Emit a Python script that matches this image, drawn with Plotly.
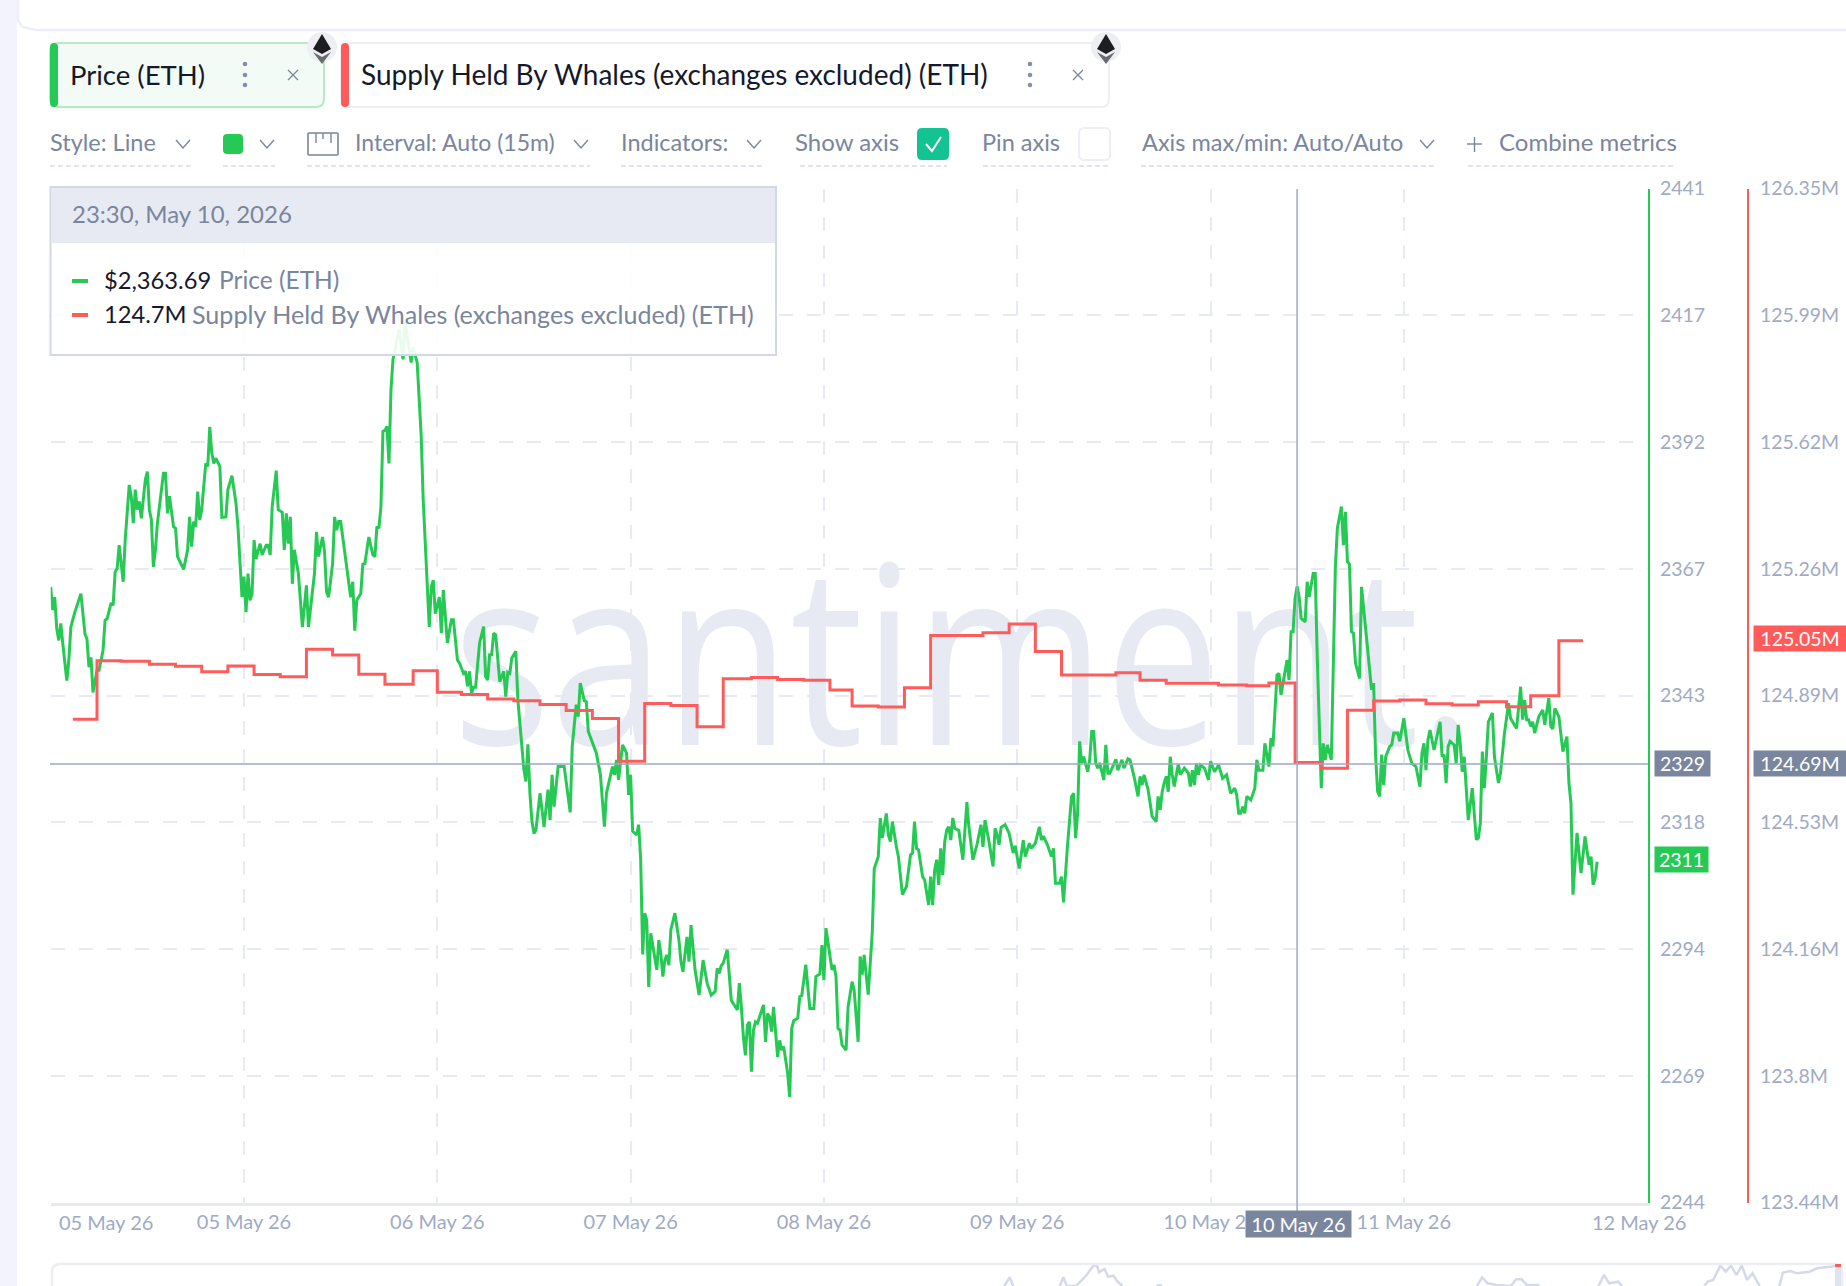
import numpy as np
import pandas as pd
import plotly.graph_objects as go

W, H = 1846, 1286

# Price (ETH), steps are 15 minute candles counted from the first x tick
price_steps = [0,1,2,3,4,5,6,8,9,10,12,15,16,17,18,19,20,21,23,24,26,27,28,30,31,32,33,34,36,37,39,40,41,42,43,44,45,47,48,49,50,51,52,53,54,56,57,58,59,61,62,63,66,68,69,70,71,72,
    73,74,75,77,78,79,80,81,82,84,85,87,88,90,92,93,95,96,97,98,99,100,101,102,104,105,107,108,109,110,112,113,115,116,117,118,119,120,121,123,125,127,128,131,132,133,135,136,137,138,140,141,142,143,144,146,148,149,150,151,152,154,155,156,158,160,161,162,163,164,165,166,167,168,169,170,171,173,175,176,179,180,182,184,185,186,188,189,190,191,193,
    194,195,197,199,200,202,203,205,206,207,208,209,210,211,213,215,216,217,218,219,220,221,223,225,226,227,228,229,231,232,234,235,236,237,238,239,240,241,243,245,247,248,249,250,252,255,258,259,261,262,263,265,266,267,271,273,275,276,279,280,281,282,284,286,287,288,289,291,292,293,294,295,296,297,298,300,301,302,303,304,305,306,307,308,310,312,313,314,316,317,318,320,322,324,326,328,330,331,332,333,334,336,338,341,342,343,344,345,346,347,348,349,350,351,354,355,356,357,358,359,361,362,363,364,366,367,368,369,371,372,373,375,377,379,380,382,383,384,385,388,389,390,391,392,393,395,396,398,399,401,402,403,404,406,408,
    409,411,412,413,415,416,417,418,420,421,423,425,427,428,429,430,431,433,434,436,437,438,439,440,441,442,443,444,445,446,447,448,449,451,453,455,456,458,460,462,463,464,466,468,469,470,471,472,474,476,478,479,481,483,484,486,487,489,491,492,493,495,497,498,499,501,502,503,505,507,508,509,510,511,512,513,515,516,517,518,519,520,521,522,523,524,525,526,529,530,532,533,535,536,538,540,541,542,543,545,547,549,550,551,552,553,554,555,556,557,558,560,561,563,565,566,567,568,569,570,571,573,575,576,578,580,582,584,586,588,589,590,591,592,593,594,596,598,599,600,602,
    603,605,606,607,609,610,611,614,615,616,617,618,619,620,621,623,624,625,627,628,629,630,631,632,633,634,636,637,638,639,641,642,643,644,645,646,647,648,650,651,652,654,656,657,658,659,660,661,662,663,665,666,667,669,670,672,674,676,678,680,681,682,683,684,685,687,690,691,692,693,694,695,697,698,699,700,701,702,704,706,708,709,710,711,712,713,714,716,717,719,720,722,724,725,728,730,731,732,733,734,735,736,737,739,741,742,744,745,746,747,749,751,753,754,755,756,758,759,760,762,764,765,766,767,768]
price_values = [2363.6,2359.1,2361.6,2355.5,2353.2,2356.5,2352.6,2345.4,2349.3,2355.8,2358.7,2362.3,2358.4,2354.5,2353.5,2348.0,2349.9,2343.1,2347.4,2347.4,2351.3,2357.1,2357.4,2360.5,2360.0,2366.5,2367.2,2371.7,2364.6,2372.7,2383.4,2381.2,2376.0,2382.5,2378.6,2380.2,2376.9,2384.4,2386.0,2378.6,2376.6,2367.5,2370.8,2376.0,2379.2,2385.7,2385.7,2377.9,2381.2,2375.3,2375.0,2369.5,2367.0,2370.8,2377.2,2371.4,2376.3,2375.3,
    2382.1,2376.6,2378.6,2387.6,2387.0,2394.7,2389.6,2387.6,2388.6,2387.0,2377.1,2377.2,2382.5,2385.2,2379.9,2375.3,2361.6,2365.6,2358.7,2366.2,2361.0,2362.3,2372.7,2369.1,2372.0,2369.8,2371.7,2371.7,2369.8,2379.2,2386.2,2378.6,2378.1,2370.8,2377.9,2372.0,2377.2,2364.2,2370.8,2366.2,2355.8,2363.9,2355.8,2366.2,2374.3,2369.5,2373.3,2370.4,2362.6,2361.6,2368.1,2377.2,2374.6,2376.3,2376.3,2370.1,2364.2,2361.6,2364.6,2355.1,2361.0,2362.3,2368.0,2368.1,2373.3,2369.8,2369.5,2375.3,2375.0,2379.2,2393.8,2394.0,2394.8,2387.6,2402.0,2407.8,2409.8,2413.7,2407.8,2415.0,2407.2,2410.1,2407.2,2392.9,2380.5,2372.0,2355.8,2363.6,2364.9,2358.4,2361.6,
    2354.6,2363.0,2352.7,2357.2,2357.2,2349.4,2348.8,2346.8,2347.2,2344.3,2347.2,2342.9,2344.1,2344.1,2352.7,2355.9,2346.2,2345.5,2350.4,2350.4,2354.6,2354.3,2345.2,2347.2,2342.3,2347.0,2346.8,2349.8,2351.1,2341.7,2332.6,2328.1,2325.8,2333.0,2323.5,2318.0,2315.7,2316.4,2323.5,2317.0,2324.2,2318.3,2327.1,2320.9,2328.7,2328.7,2319.8,2332.6,2340.7,2338.4,2344.9,2341.5,2341.3,2335.5,2331.3,2327.1,2317.0,2323.5,2328.7,2327.1,2330.0,2326.1,2332.9,2331.3,2323.2,2327.1,2316.1,2315.4,2317.4,2310.6,2292.2,2300.2,2298.9,2285.9,2296.3,2291.1,2289.2,2295.0,2292.4,2287.9,2291.1,2292.1,2290.1,2297.0,2300.2,2295.0,2290.8,2288.8,2295.6,2290.8,2297.9,2289.2,2284.3,2291.1,2286.6,2284.3,2285.0,2289.5,2288.5,2290.0,2290.5,2293.1,2283.3,2281.4,2286.6,2282.0,2276.2,2272.6,2278.5,2279.1,2269.4,2277.5,2279.1,2278.8,2282.4,2275.2,2280.7,2280.1,2277.2,2282.0,2272.3,2275.5,2273.6,2274.3,2269.1,2264.5,2277.8,2279.3,2279.8,2284.0,2284.2,2290.2,2281.7,2281.7,2287.9,2288.4,2294.0,2287.2,2297.3,2289.2,2290.2,2287.9,2277.8,2277.5,2274.6,2273.6,2282.0,2286.9,2285.3,2275.2,2291.8,2288.3,2292.1,2284.4,2296.4,
    2308.9,2311.2,2318.7,2314.8,2319.6,2315.4,2314.1,2318.0,2313.1,2311.2,2303.8,2305.4,2311.5,2311.9,2318.0,2312.8,2312.5,2307.3,2306.7,2301.8,2307.3,2301.8,2308.6,2310.6,2305.7,2312.8,2307.6,2314.1,2316.4,2317.0,2314.4,2318.7,2316.7,2316.3,2310.6,2321.8,2317.0,2310.6,2313.5,2317.4,2313.1,2318.3,2314.1,2309.3,2316.7,2315.4,2313.5,2316.9,2317.4,2315.7,2311.9,2313.3,2308.9,2314.4,2311.2,2313.8,2312.8,2313.8,2317.0,2314.4,2315.2,2313.5,2311.2,2312.8,2306.0,2306.0,2307.3,2302.3,2313.5,2322.9,2323.5,2314.8,2319.6,2333.6,2329.4,2330.6,2327.7,2330.0,2335.5,2335.5,2329.3,2328.4,2329.4,2327.4,2326.1,2332.9,2327.4,2327.4,2330.1,2328.0,2330.0,2328.4,2330.2,2330.0,2326.8,2322.9,2326.8,2325.1,2327.1,2324.2,2319.0,2318.0,2322.9,2320.3,2323.8,2325.5,2326.8,2323.8,2330.6,2327.1,2324.8,2329.2,2327.1,2328.4,2327.4,2324.8,2328.0,2325.1,2329.3,2327.1,2329.0,2328.4,2326.1,2329.7,2327.7,2329.0,2326.4,2327.1,2323.5,2324.5,2323.2,2319.6,2319.6,2320.9,2319.6,2322.9,2322.2,2324.5,2330.0,2328.0,2328.0,
    2333.2,2328.7,2334.2,2332.6,2346.5,2346.8,2342.6,2349.4,2345.5,2354.9,2354.9,2361.4,2363.7,2361.7,2357.5,2356.8,2364.6,2361.7,2366.2,2366.2,2350.0,2334.5,2324.5,2333.2,2330.0,2332.9,2330.0,2348.8,2367.5,2375.0,2379.2,2371.7,2378.2,2368.5,2368.0,2354.9,2354.6,2348.8,2345.8,2363.6,2359.8,2352.0,2343.6,2344.9,2330.6,2323.8,2322.9,2331.0,2325.1,2330.6,2332.6,2332.9,2335.2,2335.2,2333.6,2338.1,2331.9,2329.3,2328.7,2324.8,2331.3,2333.2,2328.0,2333.9,2335.8,2331.9,2337.4,2330.6,2331.0,2325.5,2332.6,2333.6,2332.9,2329.3,2336.8,2333.2,2327.7,2330.6,2318.3,2324.5,2314.5,2314.8,2317.7,2331.6,2324.5,2330.6,2337.4,2339.1,2330.6,2325.5,2327.4,2335.2,2341.0,2338.1,2336.1,2344.2,2337.8,2341.6,2337.8,2337.8,2336.5,2337.4,2335.2,2338.4,2339.7,2336.8,2342.0,2336.5,2336.0,2340.0,2338.4,2331.6,2334.5,2325.5,2321.6,2303.8,2315.8,2311.9,2308.0,2315.1,2309.6,2311.2,2305.7,2307.0,2310.2]

# Supply Held By Whales, in millions, one entry per level change
supply_steps = [11,23,35,49,62,75,88,101,114,127,140,153,166,180,192,204,217,230,243,256,269,282,295,308,321,334,348,361,374,387,398,411,424,437,463,476,489,502,529,541,554,580,594,605,618,631,644,657,670,683,696,709,723,735,749,761]
supply_values = [124.827,124.995,124.993,124.985,124.979,124.963,124.980,124.955,124.949,125.028,125.011,124.956,124.927,124.966,124.904,124.898,124.885,124.880,124.869,124.852,124.829,124.706,124.872,124.866,124.805,124.943,124.947,124.941,124.939,124.911,124.865,124.862,124.917,125.067,125.075,125.100,125.021,124.954,124.960,124.939,124.930,124.925,124.923,124.931,124.703,124.686,124.853,124.879,124.882,124.871,124.868,124.877,124.863,124.894,125.052,125.052]

# navigator strip at the bottom, only its tops show
nav_pos = [53.2,53.5,53.7,None,56.3,56.5,56.7,57.2,57.8,58.2,58.4,58.5,58.8,59.0,59.3,59.5,59.8,None,61.7,61.9,62.0,None,79.6,79.9,80.2,80.7,81.5,81.8,82.1,82.4,83.1,None,86.4,86.7,87.0,87.5,87.7,None,92.3,92.5,92.8,93.2,93.5,93.8,94.1,94.4,94.7,95.0,95.4,None,96.5,96.7,97.1,97.5,98.2,98.6,99.8]
nav_level = [0,26,0,None,0,26,0,0,33,63,58,41,51,28,31,15,0,None,0,3,0,None,0,26,8,3,0,20,20,3,3,None,0,33,8,13,0,None,0,13,18,61,43,61,33,61,18,38,0,None,0,40,45,38,43,53,61]

x_tick_labels = ["", "05 May 26", "06 May 26", "07 May 26", "08 May 26", "09 May 26", "10 May 26", "11 May 26"]
price_tick_labels = ["2244", "2269", "2294", "2318", "2343", "2367", "2392", "2417", "2441"]
supply_tick_labels = ["123.44M", "123.8M", "124.16M", "124.53M", "124.89M", "125.26M", "125.62M", "125.99M", "126.35M"]

GREEN = "#26c953"
RED = "#ff5b5b"
GRID = "#e7eaf3"
TICK = "#9faac4"
SLATE = "#7a859e"
DARK = "#15192b"
FONT = "Lato"

start = pd.Timestamp("2026-05-04 12:45")


def to_date(steps):
    return [(start + pd.Timedelta(minutes=15 * s)).strftime("%Y-%m-%d %H:%M") for s in steps]


def fx(x):
    return x / W


def fy(y):
    return 1 - y / H


shapes = []
notes = []


def box(x0, y0, x1, y1, fill="rgba(0,0,0,0)", line=None, lw=2, r=0):
    rx, ry = r / W, r / H
    a, b, c, d = fx(x0), fx(x1), fy(y0), fy(y1)
    path = (f"M {a+rx} {c} L {b-rx} {c} Q {b} {c} {b} {c-ry} L {b} {d+ry} Q {b} {d} {b-rx} {d} "
            f"L {a+rx} {d} Q {a} {d} {a} {d+ry} L {a} {c-ry} Q {a} {c} {a+rx} {c} Z")
    shapes.append(dict(type="path", xref="paper", yref="paper", path=path, fillcolor=fill,
                       line=dict(color=line if line else "rgba(0,0,0,0)", width=lw if line else 0)))


def stroke(points, color=SLATE, lw=1.6, dash=None, fill=None):
    path = "M " + " L ".join(f"{fx(x)} {fy(y)}" for x, y in points)
    if fill:
        path += " Z"
    shapes.append(dict(type="path", xref="paper", yref="paper", path=path,
                       fillcolor=fill if fill else "rgba(0,0,0,0)",
                       line=dict(color=color if not fill else "rgba(0,0,0,0)", width=lw if not fill else 0, dash=dash)))


def dot(x, y, r, fill):
    shapes.append(dict(type="circle", xref="paper", yref="paper", x0=fx(x - r), x1=fx(x + r), y0=fy(y + r), y1=fy(y - r),
                       fillcolor=fill, line=dict(width=0)))


def label(x, y, text, size=23.5, color=SLATE, anchor="left"):
    notes.append(dict(xref="paper", yref="paper", x=fx(x), y=fy(y), text=text, showarrow=False, xanchor=anchor,
                      yanchor="middle", borderpad=0, font=dict(family=FONT, size=size, color=color)))


def tag(x0, x1, y, text, fill, yref="y", size=19.5):
    notes.append(dict(xref="paper", yref=yref, x=fx((x0 + x1) / 2), y=y, text=text, showarrow=False, bgcolor=fill,
                      width=x1 - x0, height=25, borderpad=0, xanchor="center", yanchor="middle",
                      font=dict(family=FONT, size=size, color="white")))


def chevron(x, y=144):
    stroke([(x - 7, y - 4), (x, y + 4), (x + 7, y - 4)], lw=1.4)


def eth_logo(x, y):
    dot(x, y, 15, "#edeff2")
    stroke([(x, y - 13), (x + 9, y + 2), (x, y + 7), (x - 9, y + 2)], fill="#1d1d22")
    stroke([(x - 9, y + 5), (x, y + 10), (x + 9, y + 5), (x, y + 17)], fill="#6a6a70")


def chip_controls(x_dots, x_close):
    for yy in (64, 75, 85):
        dot(x_dots, yy, 2.3, "#8590a8")
    stroke([(x_close - 5, 70), (x_close + 5, 80)], lw=1.2)
    stroke([(x_close + 5, 70), (x_close - 5, 80)], lw=1.2)


# page chrome
box(0, 0, 17, H, fill="#f2f3fd")
stroke([(36, 30), (W, 30)], color="#eeeff6", lw=2.5)
stroke([(18, 0), (18, 20), (22, 27), (36, 30)], color="#eeeff6", lw=2.5)

# metric chips
box(50, 43, 324, 107, fill="#f2fbf5", line="#b5ebc4", r=8)
box(50, 43, 58, 107, fill=GREEN, r=4)
label(69, 74, "Price (ETH)", size=27.5, color=DARK)
chip_controls(245, 293)
eth_logo(322, 47)
box(341, 43, 1109, 107, fill="white", line="#eeeff6", r=8)
box(341, 43, 349, 107, fill=RED, r=4)
label(360, 74, "Supply Held By Whales (exchanges excluded) (ETH)", size=28, color=DARK)
chip_controls(1030, 1078)
eth_logo(1106, 47)

# toolbar
label(49, 142, "Style: Line")
chevron(183)
box(223, 134, 243, 154, fill=GREEN, r=4)
chevron(267)
box(308, 133, 338, 155, line=SLATE, lw=1.6, r=1)
for tx, ty in ((316, 143), (323, 139), (331, 143)):
    stroke([(tx, 133), (tx, ty)], lw=1.4)
label(354, 142, "Interval: Auto (15m)", size=23)
chevron(581)
label(620, 142, "Indicators:")
chevron(754)
label(794, 142, "Show axis", size=24)
box(917, 128, 949, 160, fill="#14c393", r=5)
stroke([(926, 144), (932, 151), (941, 137)], color="white", lw=2)
label(981, 142, "Pin axis")
box(1079, 128, 1110, 160, fill="white", line="#eeeff6", r=5)
label(1141, 142, "Axis max/min: Auto/Auto")
chevron(1427)
stroke([(1467, 144), (1482, 144)], lw=1.4)
stroke([(1474.5, 137), (1474.5, 152)], lw=1.4)
label(1498, 142, "Combine metrics", size=24)
for x0, x1 in ((50, 191), (223, 275), (307, 590), (621, 762), (800, 947), (983, 1108), (1141, 1435), (1468, 1675)):
    stroke([(x0, 166), (x1, 166)], color="#d7dcec", lw=1.6, dash="5px,3px")

# crosshair
cross_x = to_date([619])[0]
shapes.append(dict(type="line", xref="x", yref="paper", x0=cross_x, x1=cross_x, y0=fy(1212), y1=fy(189),
                   line=dict(color="#9ea8c4", width=1.5)))
shapes.append(dict(type="line", xref="paper", yref="y", x0=fx(50), x1=fx(1648), y0=2329.2, y1=2329.2,
                   line=dict(color="#9ea8c4", width=1.5)))

# tooltip, a touch see through like the real one
box(50.5, 187, 776, 355, fill="rgba(255,255,255,0.9)", line="#d3d7e8", lw=2)
box(51.5, 188, 775, 243, fill="#e7eaf3")
label(71, 214, "23:30, May 10, 2026", size=24)
box(72, 279, 88, 283, fill=GREEN)
box(72, 313, 88, 317, fill=RED)
label(103, 280, "$2,363.69", size=23.7, color=DARK)
label(218, 280, "Price (ETH)", size=24.5)
label(103, 314, "124.7M", size=23.7, color=DARK)
label(190.5, 314, "Supply Held By Whales (exchanges excluded) (ETH)", size=25.1)

# value tags
tag(1655, 1710, 2329.2, "2329", SLATE)
tag(1655, 1708, 2310.6, "2311", GREEN)
tag(1754, 1846, 124.70, "124.69M", SLATE, yref="y2")
tag(1754, 1846, 125.06, "125.05M", RED, yref="y2")
notes.append(dict(xref="paper", yref="paper", x=fx(1298.5), y=fy(1224), text="10 May 26", showarrow=False, bgcolor=SLATE,
                  width=105, height=26, borderpad=0, xanchor="center", yanchor="middle",
                  font=dict(family=FONT, size=20, color="white")))
label(106, 1222, "05 May 26", size=20, color=TICK, anchor="center")
label(1639, 1222, "12 May 26", size=20, color=TICK, anchor="center")

# navigator panel
box(52, 1264, 1842, 1310, line="#ecedf5", lw=2.5, r=8)
box(1835, 1265, 1841, 1286, fill="#e0e4f0")
box(1835, 1264, 1841, 1267, fill=RED)

fig = go.Figure()
fig.add_trace(go.Scatter(x=to_date([453]), y=[2345], mode="text", text=["santiment."], hoverinfo="skip",
                         textfont=dict(family="Open Sans", size=250, color="#e7eaf3"), cliponaxis=False))
fig.add_trace(go.Scatter(x=to_date(price_steps), y=price_values, mode="lines", line=dict(color=GREEN, width=3)))
fig.add_trace(go.Scatter(x=to_date(supply_steps), y=supply_values, yaxis="y2", mode="lines",
                         line=dict(color=RED, width=3, shape="hv")))
fig.add_trace(go.Scatter(x=nav_pos, y=nav_level, xaxis="x3", yaxis="y3", mode="lines", connectgaps=False,
                         line=dict(color="#d5d9e8", width=2.5)))

fig.update_layout(
    width=W, height=H, autosize=False, showlegend=False, hovermode=False,
    margin=dict(l=0, r=0, t=0, b=0, autoexpand=False),
    paper_bgcolor="white", plot_bgcolor="rgba(0,0,0,0)",
    shapes=shapes, annotations=notes,
    xaxis=dict(
        domain=[fx(50.7), fx(1648)], type="date", anchor="y",
        range=to_date([0, 793.3]),
        tickmode="array", tickvals=to_date([96 * k for k in range(8)]), ticktext=x_tick_labels,
        tickfont=dict(family=FONT, size=20, color=TICK), ticks="", ticklabelstandoff=0,
        showgrid=True, gridcolor=GRID, gridwidth=2, griddash="14px,14px",
        showline=True, linecolor=GRID, linewidth=2.5, zeroline=False,
    ),
    yaxis=dict(
        domain=[fy(1202.5), fy(188.5)], side="right", anchor="x", range=[2244, 2441],
        tickmode="array", tickvals=np.linspace(2244, 2441, 9).tolist(), ticktext=price_tick_labels,
        tickfont=dict(family=FONT, size=19.5, color=TICK), ticks="", ticklabelstandoff=6,
        showgrid=True, gridcolor=GRID, gridwidth=2, griddash="14px,14px",
        showline=True, linecolor=GREEN, linewidth=2, zeroline=False,
    ),
    yaxis2=dict(
        overlaying="y", side="right", anchor="free", position=fx(1748), range=[123.44, 126.35],
        tickmode="array", tickvals=np.linspace(123.44, 126.35, 9).tolist(), ticktext=supply_tick_labels,
        tickfont=dict(family=FONT, size=19.5, color=TICK), ticks="", ticklabelstandoff=7,
        showgrid=False, showline=True, linecolor=RED, linewidth=2, zeroline=False,
    ),
    xaxis3=dict(domain=[fx(52), fx(1842)], anchor="y3", range=[0, 100], visible=False),
    yaxis3=dict(domain=[0, 22 / H], anchor="x3", range=[0, 66], visible=False),
)

# squeeze the watermark to the narrow lettering of the reference
squeeze = ("document.body.style.margin='0';"
           "var t=document.querySelector('.textpoint text');"
           "if(t){t.setAttribute('textLength','1020');t.setAttribute('lengthAdjust','spacingAndGlyphs');}")
fig.write_html("out.html", post_script=squeeze, config=dict(displayModeBar=False))
